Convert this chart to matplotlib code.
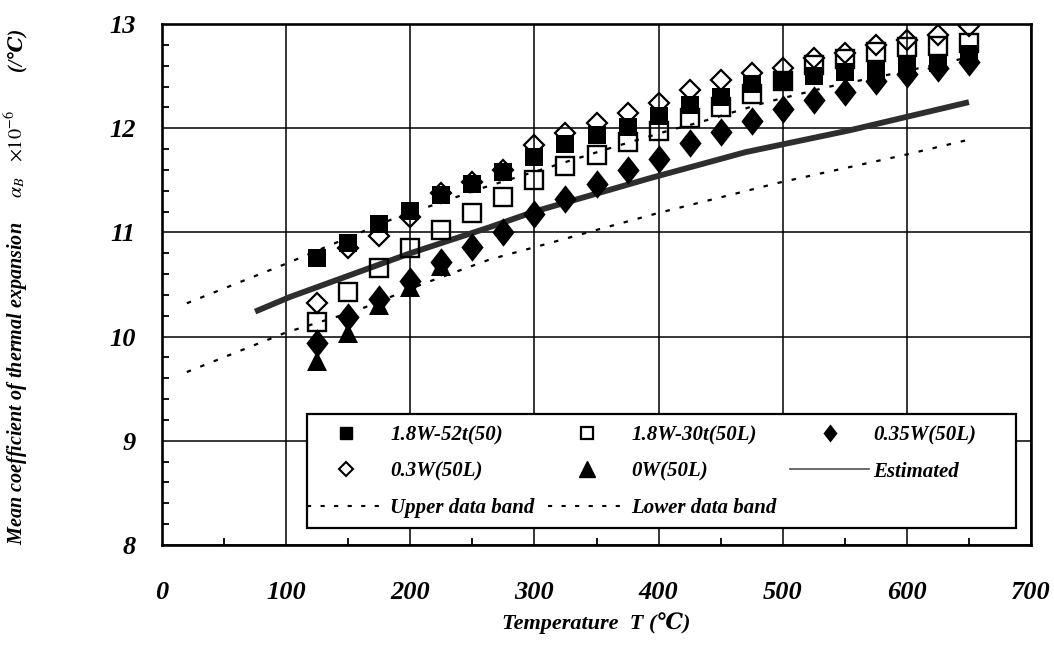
import matplotlib
matplotlib.use("Agg")
import matplotlib.pyplot as plt
from matplotlib.lines import Line2D
from matplotlib.patches import Rectangle
from matplotlib.path import Path
from matplotlib.ticker import MultipleLocator

# ---------------- data ----------------
temps = [125, 150, 175, 200, 225, 250, 275, 300, 325, 350, 375,
         400, 425, 450, 475, 500, 525, 550, 575, 600, 625, 650]
w18_52t = [10.75, 10.90, 11.08, 11.21, 11.36, 11.46, 11.58, 11.72, 11.85, 11.93, 12.01,
           12.12, 12.22, 12.30, 12.42, 12.44, 12.50, 12.54, 12.56, 12.61, 12.63, 12.71]
w18_30t = [10.14, 10.43, 10.66, 10.85, 11.02, 11.19, 11.34, 11.50, 11.64, 11.74, 11.87,
           11.97, 12.10, 12.20, 12.33, 12.45, 12.61, 12.66, 12.73, 12.78, 12.79, 12.82]
w035 = [9.94, 10.19, 10.36, 10.53, 10.72, 10.86, 11.00, 11.18, 11.32, 11.46, 11.60,
        11.70, 11.86, 11.96, 12.07, 12.18, 12.27, 12.35, 12.45, 12.52, 12.58, 12.64]
w03 = [10.32, 10.85, 10.97, 11.15, 11.38, 11.48, 11.60, 11.84, 11.95, 12.05, 12.15,
       12.24, 12.37, 12.46, 12.53, 12.58, 12.67, 12.72, 12.80, 12.85, 12.89, 12.98]
tri_temps = [125, 150, 175, 200, 225]
w0 = [9.77, 10.03, 10.30, 10.48, 10.68]

est_T = [75, 103, 200, 264, 300, 393, 470, 554, 650]
est = [10.24, 10.38, 10.80, 11.05, 11.20, 11.52, 11.77, 11.98, 12.25]

upper_T = [20, 100, 184, 259, 313, 364, 409, 434, 487, 538, 592, 650]
upper = [10.32, 10.70, 11.12, 11.43, 11.63, 11.82, 11.98, 12.06, 12.25, 12.40, 12.53, 12.68]

lower_T = [20, 100, 157, 211, 264, 313, 355, 401, 498, 597, 650]
lower = [9.66, 10.04, 10.25, 10.51, 10.74, 10.90, 11.04, 11.19, 11.48, 11.74, 11.89]

labels = ["1.8W-52t(50)", "1.8W-30t(50L)", "0.35W(50L)", "0.3W(50L)", "0W(50L)",
          "Estimated", "Upper data band", "Lower data band"]
xticks = [0, 100, 200, 300, 400, 500, 600, 700]
yticks = [8, 9, 10, 11, 12, 13]

# ---------------- style ----------------
serif = ["Liberation Serif", "DejaVu Serif", "DejaVu Sans"]
plt.rcParams["font.family"] = serif
plt.rcParams["mathtext.fontset"] = "stix"

W, H = 1054, 659
fig = plt.figure(figsize=(W / 100, H / 100), dpi=100)
ax = fig.add_axes([162 / W, 1 - 545 / H, (1031 - 162) / W, (545 - 24) / H])

thin_dia = Path([(0, 1), (0.78, 0), (0, -1), (-0.78, 0), (0, 1)],
                [Path.MOVETO, Path.LINETO, Path.LINETO, Path.LINETO, Path.CLOSEPOLY])

band_ls = (0, (2, 4.5))
ax.plot(upper_T, upper, color="black", lw=1.6, ls=band_ls, zorder=2)
ax.plot(lower_T, lower, color="black", lw=1.6, ls=band_ls, zorder=2)
ax.plot(est_T, est, color="#2e2e2e", lw=4.2, solid_capstyle="butt", zorder=2.5)

ax.plot(temps, w03, ls="none", marker="D", ms=9.8, mfc="none", mec="black", mew=1.6, zorder=3)
ax.plot(temps, w18_30t, ls="none", marker="s", ms=12.5, mfc="none", mec="black", mew=1.7, zorder=4)
ax.plot(temps, w18_52t, ls="none", marker="s", ms=13, mfc="black", mec="black", mew=0, zorder=5)
ax.plot(tri_temps, w0, ls="none", marker="^", ms=15, mfc="black", mec="black", mew=0, zorder=5.5)
ax.plot(temps, w035, ls="none", marker=thin_dia, ms=20.5, mfc="black", mec="black", mew=0, zorder=6)

ax.set_xlim(0, 700)
ax.set_ylim(8, 13)
ax.set_xticks(xticks)
ax.set_yticks(yticks)
ax.xaxis.set_minor_locator(MultipleLocator(50))
ax.yaxis.set_minor_locator(MultipleLocator(0.2))
ax.grid(True, which="major", color="black", lw=1.1, zorder=0)
ax.tick_params(axis="y", which="major", length=0, pad=19)
ax.tick_params(axis="x", which="major", length=0, pad=26)
ax.tick_params(which="minor", direction="in", length=5, width=1.3, color="black",
               bottom=True, left=True, top=False, right=False)
for lab in ax.get_xticklabels() + ax.get_yticklabels():
    lab.set_fontsize(19)
    lab.set_fontweight("bold")
    lab.set_fontstyle("italic")
for s in ax.spines.values():
    s.set_linewidth(1.9)
    s.set_color("black")

ax.set_xlabel("Temperature  T (\u2103)", fontsize=16, fontweight="bold",
              fontstyle="italic", labelpad=6)
fig.text(0.016, 1 - 545 / H,
         "Mean coefficient of thermal expansion     $\\alpha_B$   $\\times10^{-6}$",
         rotation=90, ha="center", va="bottom", fontsize=14.5, fontweight="bold",
         fontstyle="italic")
fig.text(0.016, 1 - 28 / H, "(/\u2103)", rotation=90, ha="center", va="top",
         fontsize=14.5, fontweight="bold", fontstyle="italic", family=serif)

# ---------------- legend ----------------
h_sq = Line2D([], [], ls="none", marker="s", ms=9, mfc="black", mec="black")
h_osq = Line2D([], [], ls="none", marker="s", ms=8.5, mfc="none", mec="black", mew=1.6)
h_dia = Line2D([], [], ls="none", marker=thin_dia, ms=13, mfc="black", mec="black", mew=0)
h_odia = Line2D([], [], ls="none", marker="D", ms=7, mfc="none", mec="black", mew=1.5)
h_tri = Line2D([], [], ls="none", marker="^", ms=11, mfc="black", mec="black")
h_est = Line2D([], [], color="#505050", lw=1.2)
h_up = Line2D([], [], color="black", lw=1.5, ls=band_ls)
h_lo = Line2D([], [], color="black", lw=1.5, ls=band_ls)

handles = [h_sq, h_odia, h_up, h_osq, h_tri, h_lo, h_dia, h_est]
leg_labels = [labels[0], labels[3], labels[6], labels[1], labels[4], labels[7], labels[2], labels[5]]

frame = Rectangle((0.167, 0.033), 0.816, 0.218, transform=ax.transAxes,
                  facecolor="white", edgecolor="black", lw=1.6, zorder=9)
ax.add_patch(frame)
leg = ax.legend(handles, leg_labels, ncol=3, loc="lower left",
                bbox_to_anchor=((298 - 162) / 869, 0.033), borderaxespad=0, frameon=False,
                prop={"family": serif, "weight": "bold", "style": "italic", "size": 15},
                handlelength=3.75, handletextpad=0.22, columnspacing=0.67,
                labelspacing=0.8, borderpad=0.45)
leg.set_zorder(10)

fig.savefig("out.png", dpi=100)
